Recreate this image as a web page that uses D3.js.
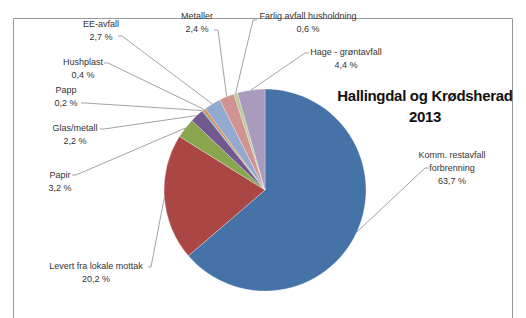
<!DOCTYPE html>
<html>
<head>
<meta charset="utf-8">
<script src="https://cdn.jsdelivr.net/npm/d3@7"></script>
<style>
  body { margin: 0; background: #fff; }
  svg { display: block; font-family: "Liberation Sans", Arial, sans-serif; }
  .lbl { font-size: 9px; fill: #333; }
  .title { font-size: 15px; font-weight: bold; fill: #111; letter-spacing: -0.3px; }
</style>
</head>
<body>
<div id="container"></div>
<script>
// data
const categories = ["Komm. restavfall forbrenning", "Levert fra lokale mottak", "Papir", "Glas/metall",
  "Papp", "Hushplast", "EE-avfall", "Metaller", "Farlig avfall husholdning", "Hage - grøntavfall"];
const values = [63.7, 20.2, 3.2, 2.2, 0.2, 0.4, 2.7, 2.4, 0.6, 4.4];
const valueLabels = ["63,7 %", "20,2 %", "3,2 %", "2,2 %", "0,2 %", "0,4 %", "2,7 %", "2,4 %", "0,6 %", "4,4 %"];
const labelLines = [["Komm. restavfall", "forbrenning"], ["Levert fra lokale mottak"], ["Papir"], ["Glas/metall"],
  ["Papp"], ["Hushplast"], ["EE-avfall"], ["Metaller"], ["Farlig avfall husholdning"], ["Hage - grøntavfall"]];
const colors = ["#4572A7", "#AA4643", "#89A54E", "#71588F", "#4198AF", "#DB843D",
  "#93A9CF", "#D19392", "#B9CD96", "#A99BBD"];

// label layout: text center x, first baseline y, leader start point and hook direction
const labelPos = [
  {x: 452, y: 158, lx: 429, ly: 168, h: -4},
  {x: 96, y: 269, lx: 148, ly: 267, h: 3},
  {x: 60, y: 178, lx: 72, ly: 175, h: 4},
  {x: 75, y: 131, lx: 100, ly: 129, h: 4},
  {x: 66, y: 93, lx: 81, ly: 103, h: 4},
  {x: 83, y: 65, lx: 104, ly: 63, h: 4},
  {x: 101, y: 27, lx: 118, ly: 36, h: 4},
  {x: 197, y: 19, lx: 214, ly: 30, h: 4},
  {x: 308, y: 19, lx: 257, ly: 20, h: -4},
  {x: 346, y: 55, lx: 309, ly: 53, h: -4}
];

const width = 526, height = 318;
const cx = 265, cy = 190, r = 101;

const svg = d3.select("#container").
  append("svg").
  attr("width", width).
  attr("height", height);

// frame
svg.append("path").
  attr("d", `M13.5,${height} V18.5 H512.5 V${height}`).
  attr("fill", "none").
  attr("stroke", "#999").
  attr("stroke-width", 1);

const pie = d3.pie().sort(null).value(d => d)(values);
const arc = d3.arc().innerRadius(0).outerRadius(r);

const g = svg.append("g").attr("transform", `translate(${cx},${cy})`);

g.selectAll("path.slice").
  data(pie).
  enter().
  append("path").
  attr("class", "slice").
  attr("d", arc).
  attr("fill", (d, i) => colors[i]).
  attr("stroke", "#fff").
  attr("stroke-width", 0.3);

// leader lines
const edge = d => {
  let a = (d.startAngle + d.endAngle) / 2;
  return [cx + r * Math.sin(a), cy - r * Math.cos(a)];
};

svg.selectAll("path.leader").
  data(pie).
  enter().
  append("path").
  attr("class", "leader").
  attr("fill", "none").
  attr("stroke", "#8c8c8c").
  attr("stroke-width", 0.8).
  attr("d", (d, i) => {
    let p = labelPos[i];
    let e = edge(d);
    return `M${p.lx},${p.ly} h${p.h} L${e[0]},${e[1]}`;
  });

// labels
const lbl = svg.selectAll("text.lbl").
  data(pie).
  enter().
  append("text").
  attr("class", "lbl").
  attr("text-anchor", "middle");

lbl.each(function(d, i) {
  let t = d3.select(this);
  let p = labelPos[i];
  let lines = labelLines[i].concat([valueLabels[i]]);
  lines.forEach((s, k) => {
    t.append("tspan").attr("x", p.x).attr("y", p.y + k * 13).text(s);
  });
});

// title
svg.append("text").
  attr("class", "title").
  attr("text-anchor", "middle").
  attr("x", 425).
  attr("y", 101).
  text("Hallingdal og Krødsherad");
svg.append("text").
  attr("class", "title").
  attr("text-anchor", "middle").
  attr("x", 425).
  attr("y", 122).
  text("2013");
</script>
</body>
</html>
